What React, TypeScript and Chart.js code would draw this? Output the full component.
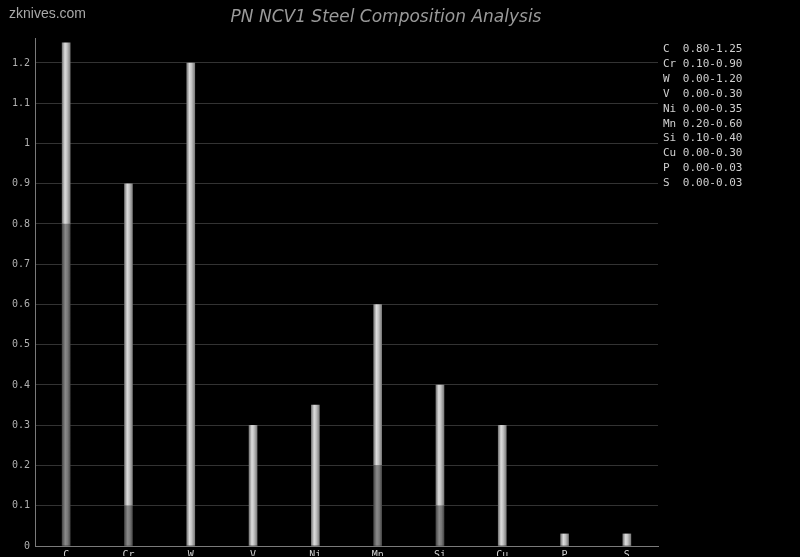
import React, { useEffect, useRef } from "react";
import { Chart, registerables } from "chart.js";

Chart.register(...registerables);

const elements = ["C", "Cr", "W", "V", "Ni", "Mn", "Si", "Cu", "P", "S"];
const minValues = [0.8, 0.1, 0.0, 0.0, 0.0, 0.2, 0.1, 0.0, 0.0, 0.0];
const maxValues = [1.25, 0.9, 1.2, 0.3, 0.35, 0.6, 0.4, 0.3, 0.03, 0.03];
const yTicks = [0, 0.1, 0.2, 0.3, 0.4, 0.5, 0.6, 0.7, 0.8, 0.9, 1, 1.1, 1.2];
const titleText = "PN NCV1 Steel Composition Analysis";
const watermarkText = "zknives.com";

const rangeData = elements.map((_, i) => [minValues[i], maxValues[i]]);
const legendLines = elements.map(
  (e, i) => `${e.padEnd(2, " ")} ${minValues[i].toFixed(2)}-${maxValues[i].toFixed(2)}`
);

type Stop = [number, string];
const lowStops: Stop[] = [
  [0, "#4a4a4a"],
  [0.4, "#8a8a8a"],
  [0.7, "#777777"],
  [1, "#4a4a4a"],
];
const highStops: Stop[] = [
  [0, "#7a7a7a"],
  [0.35, "#dcdcdc"],
  [0.6, "#c4c4c4"],
  [1, "#7e7e7e"],
];

const gradient = (stops: Stop[]) => (c: any) => {
  const chart = c.chart;
  if (!chart.chartArea) return stops[1][1];
  const x = chart.scales.x.getPixelForValue(c.dataIndex);
  const g = chart.ctx.createLinearGradient(x - 4, 0, x + 4, 0);
  stops.forEach(([o, col]) => g.addColorStop(o, col));
  return g;
};

const textPlugin = {
  id: "texts",
  afterDraw(chart: any) {
    const ctx = chart.ctx;
    ctx.save();
    ctx.textBaseline = "alphabetic";
    ctx.fillStyle = "#a8a8a8";
    ctx.font = "14px 'Liberation Sans', Arial, sans-serif";
    ctx.textAlign = "left";
    ctx.fillText(watermarkText, 9, 18);

    ctx.fillStyle = "#9a9a9a";
    ctx.font = "italic 17px 'DejaVu Sans', sans-serif";
    ctx.textAlign = "center";
    ctx.fillText(titleText, 386, 22);

    ctx.fillStyle = "#cfcfcf";
    ctx.font = "11px 'DejaVu Sans Mono', monospace";
    ctx.textAlign = "left";
    legendLines.forEach((line, i) => {
      ctx.fillText(line, 663, 52 + i * 14.9);
    });
    ctx.restore();
  },
};

export default function App() {
  const ref = useRef<HTMLCanvasElement | null>(null);

  useEffect(() => {
    document.body.style.margin = "0";
    document.body.style.background = "#000";
    const canvas = ref.current;
    if (!canvas) return;
    const chart = new Chart(canvas, {
      type: "bar",
      data: {
        labels: elements,
        datasets: [
          {
            label: "min",
            data: minValues,
            backgroundColor: gradient(lowStops),
            barThickness: 8,
            grouped: false,
            borderWidth: 0,
          } as any,
          {
            label: "range",
            data: rangeData,
            backgroundColor: gradient(highStops),
            barThickness: 8,
            grouped: false,
            borderWidth: 0,
          } as any,
        ],
      },
      options: {
        responsive: false,
        animation: false,
        layout: { padding: { left: 0, top: 38, right: 142, bottom: 0 } },
        plugins: {
          legend: { display: false },
          title: { display: false },
          tooltip: { enabled: false },
        },
        scales: {
          x: {
            afterFit: (s: any) => {
              s.height = 10;
            },
            grid: { display: false, drawTicks: false },
            border: { display: true, color: "#7a7a7a", width: 1 },
            ticks: {
              color: "#cfcfcf",
              font: { family: "'DejaVu Sans Mono', monospace", size: 10 },
              padding: 3,
              maxRotation: 0,
              autoSkip: false,
            },
          },
          y: {
            min: 0,
            max: 1.262,
            afterFit: (s: any) => {
              s.width = 35;
            },
            afterBuildTicks: (s: any) => {
              s.ticks = yTicks.map((v) => ({ value: v }));
            },
            grid: { color: "#333333", drawTicks: false },
            border: { display: true, color: "#7a7a7a", width: 1 },
            ticks: {
              color: "#b0b0b0",
              font: { family: "'DejaVu Sans Mono', monospace", size: 10 },
              padding: 5,
              callback: (v: any) => String(Math.round(Number(v) * 10) / 10),
            },
          },
        },
      } as any,
      plugins: [textPlugin],
    });
    return () => chart.destroy();
  }, []);

  return (
    <div style={{ width: 800, height: 557, background: "#000", overflow: "hidden" }}>
      <canvas ref={ref} width={800} height={557} style={{ display: "block" }} />
    </div>
  );
}
